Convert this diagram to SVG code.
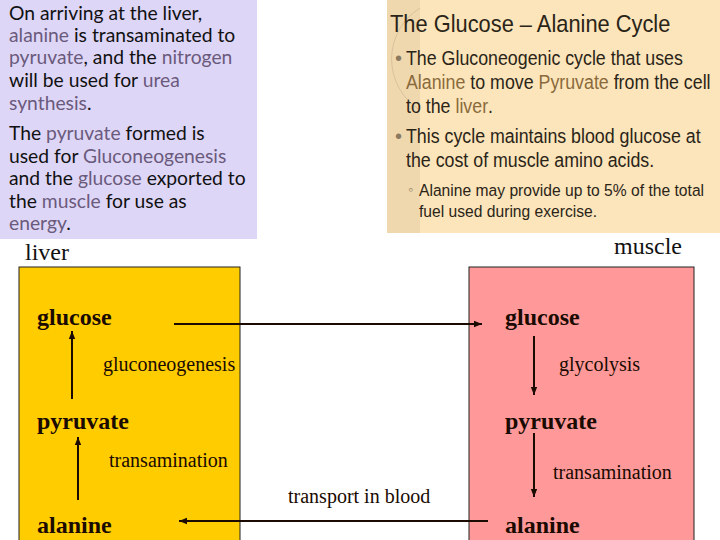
<svg xmlns="http://www.w3.org/2000/svg" width="720" height="540" viewBox="0 0 720 540">
<defs>
<marker id="ah" viewBox="0 0 10 10" refX="10" refY="5" markerWidth="4" markerHeight="4" orient="auto" markerUnits="strokeWidth">
<path d="M0,1 L10,5 L0,9 z" fill="#1a0a00"/>
</marker>
<style>
.p1{font-family:Lato,"Open Sans",sans-serif;font-size:19.3px;fill:#111}
.p1 .c{fill:#6a5a7c}
.p2{font-family:"Liberation Sans",Arial,sans-serif;fill:#2a2418}
.p2 .c{fill:#8a6a3c}
.b{font-family:"Liberation Sans",Arial,sans-serif;fill:#8a7a60}
.n{font-family:"Liberation Serif","Times New Roman",serif;font-size:24px;font-weight:bold;fill:#1a0a00}
.l{font-family:"Liberation Serif","Times New Roman",serif;font-size:20px;fill:#1a0a00}
.t{font-family:"Liberation Serif","Times New Roman",serif;font-size:24px;fill:#111}
.ar{stroke:#1a0a00;stroke-width:2;fill:none;marker-end:url(#ah)}
</style>
</defs>
<rect width="720" height="540" fill="#fff"/>
<g id="liver-note">
<rect x="0" y="0" width="257" height="239" fill="#DED6F7"/>
<text class="p1">
<tspan x="9" y="20">On arriving at the liver,</tspan>
<tspan x="9" y="42"><tspan class="c">alanine</tspan> is transaminated to</tspan>
<tspan x="9" y="64"><tspan class="c">pyruvate</tspan>, and the <tspan class="c">nitrogen</tspan></tspan>
<tspan x="9" y="87">will be used for <tspan class="c">urea</tspan></tspan>
<tspan x="9" y="110"><tspan class="c">synthesis</tspan>.</tspan>
<tspan x="9" y="140">The <tspan class="c">pyruvate</tspan> formed is</tspan>
<tspan x="9" y="163">used for <tspan class="c">Gluconeogenesis</tspan></tspan>
<tspan x="9" y="185">and the <tspan class="c">glucose</tspan> exported to</tspan>
<tspan x="9" y="208">the <tspan class="c">muscle</tspan> for use as</tspan>
<tspan x="9" y="230"><tspan class="c">energy</tspan>.</tspan>
</text>
</g>
<g id="cycle-note">
<rect x="387" y="0" width="333" height="233" fill="#FCE5BA"/>
<rect x="387" y="0" width="33" height="233" fill="#F0D8AE"/>
<path d="M420,8 A60,60 0 0 0 420,110" fill="none" stroke="#d9c29c" stroke-width="1"/>
<text class="p2" font-size="24" transform="translate(390,32) scale(0.91,1)">The Glucose – Alanine Cycle</text>
<text class="b" x="395" y="65" font-size="20">•</text>
<text class="b" x="395" y="143" font-size="20">•</text>
<text class="p2" font-size="20" transform="translate(406,65) scale(0.89,1)">The Gluconeogenic cycle that uses</text>
<text class="p2" font-size="20" transform="translate(406,89) scale(0.89,1)"><tspan class="c">Alanine</tspan> to move <tspan class="c">Pyruvate</tspan> from the cell</text>
<text class="p2" font-size="20" transform="translate(406,113) scale(0.89,1)">to the <tspan class="c">liver</tspan>.</text>
<text class="p2" font-size="20" transform="translate(406,143) scale(0.89,1)">This cycle maintains blood glucose at</text>
<text class="p2" font-size="20" transform="translate(406,167) scale(0.89,1)">the cost of muscle amino acids.</text>
<text class="b" x="408" y="194" font-size="14">◦</text>
<text class="p2" font-size="17" transform="translate(419,196) scale(0.92,1)">Alanine may provide up to 5% of the total</text>
<text class="p2" font-size="17" transform="translate(419,217) scale(0.92,1)">fuel used during exercise.</text>
</g>
<g id="liver">
<rect x="19" y="267" width="221" height="280" fill="#FFCC00" stroke="#222" stroke-width="1"/>
<text class="t" x="25" y="260">liver</text>
<text class="n" x="37" y="325">glucose</text>
<text class="l" x="103" y="371">gluconeogenesis</text>
<text class="n" x="37" y="429">pyruvate</text>
<text class="l" x="109" y="467">transamination</text>
<text class="n" x="37" y="533">alanine</text>
</g>
<g id="muscle">
<rect x="469" y="267" width="225" height="280" fill="#FF9999" stroke="#222" stroke-width="1"/>
<text class="t" x="614" y="254">muscle</text>
<text class="n" x="505" y="325">glucose</text>
<text class="l" x="559" y="371">glycolysis</text>
<text class="n" x="505" y="429">pyruvate</text>
<text class="l" x="553" y="479">transamination</text>
<text class="n" x="505" y="533">alanine</text>
</g>
<g id="connectors">
<line class="ar" x1="174" y1="324" x2="482" y2="324"/>
<line class="ar" x1="488" y1="521" x2="179" y2="521"/>
<line class="ar" x1="72" y1="399" x2="72" y2="331"/>
<line class="ar" x1="78" y1="500" x2="78" y2="437"/>
<line class="ar" x1="534" y1="336" x2="534" y2="395"/>
<line class="ar" x1="534" y1="433" x2="534" y2="497"/>
<text class="l" x="288" y="503">transport in blood</text>
</g>
</svg>
